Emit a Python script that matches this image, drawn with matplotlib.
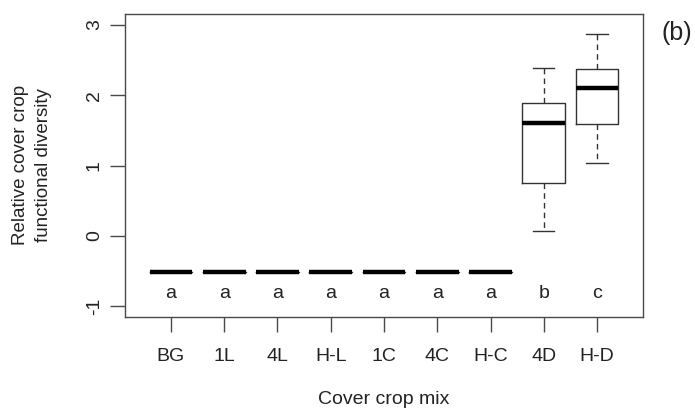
"""Boxplot de diversidad funcional relativa por mezcla de cultivo de cobertura."""

import matplotlib

matplotlib.use("Agg")
import matplotlib.pyplot as plt

plt.rcParams["font.family"] = ["Liberation Sans", "DejaVu Sans"]

# Datos
mixes = ["BG", "1L", "4L", "H-L", "1C", "4C", "H-C", "4D", "H-D"]
whisker_low = [-0.52, -0.52, -0.52, -0.52, -0.52, -0.52, -0.52, 0.07, 1.04]
box_low = [-0.52, -0.52, -0.52, -0.52, -0.52, -0.52, -0.52, 0.75, 1.59]
medians = [-0.52, -0.52, -0.52, -0.52, -0.52, -0.52, -0.52, 1.61, 2.11]
box_high = [-0.52, -0.52, -0.52, -0.52, -0.52, -0.52, -0.52, 1.89, 2.37]
whisker_high = [-0.52, -0.52, -0.52, -0.52, -0.52, -0.52, -0.52, 2.39, 2.87]
letters = ["a", "a", "a", "a", "a", "a", "a", "b", "c"]
letter_y = -0.82

AX_COLOR = "#4a4a4a"
TXT_COLOR = "#222222"

stats = []
for i, name in enumerate(mixes):
    stats.append({
        "label": name,
        "whislo": whisker_low[i],
        "q1": box_low[i],
        "med": medians[i],
        "q3": box_high[i],
        "whishi": whisker_high[i],
        "fliers": [],
    })

fig = plt.figure(figsize=(6.95, 4.17), dpi=100)
ax = fig.add_axes([125 / 695, 1 - 317 / 417, 518 / 695, 303 / 417])

positions = list(range(1, len(mixes) + 1))
ax.bxp(
    stats, positions=positions, widths=0.8, showfliers=False,
    boxprops=dict(color="#333333", linewidth=1.0),
    whiskerprops=dict(color="#333333", linewidth=1.0, linestyle=(0, (4, 3))),
    capprops=dict(color="#333333", linewidth=1.0),
    medianprops=dict(color="black", linewidth=3.2, solid_capstyle="butt"),
    capwidths=0.4,
)

for x, txt in zip(positions, letters):
    ax.text(x, letter_y, txt, ha="center", va="center", fontsize=14, color=TXT_COLOR)

ax.set_xlim(0.137, 9.863)
ax.set_ylim(-1.156, 3.156)
ax.set_yticks([-1, 0, 1, 2, 3])
ax.set_yticklabels(["-1", "0", "1", "2", "3"], rotation=90, va="center")
ax.set_xticks(positions)
ax.set_xticklabels(mixes)

for spine in ax.spines.values():
    spine.set_color(AX_COLOR)
    spine.set_linewidth(1.0)
ax.tick_params(axis="both", colors=AX_COLOR, labelcolor=TXT_COLOR, labelsize=14,
               length=11, width=1.0)
ax.tick_params(axis="x", pad=11)
ax.tick_params(axis="y", pad=5)

fig.text(384 / 695, 1 - 400 / 417, "Cover crop mix", ha="center", va="center",
         fontsize=14, color=TXT_COLOR)
fig.text(32 / 695, 1 - 165 / 417, "Relative cover crop\nfunctional diversity",
         ha="center", va="center", rotation=90, fontsize=13.5, color=TXT_COLOR,
         linespacing=1.45, multialignment="center")

fig.text(677 / 695, 1 - 33 / 417, "(b)", ha="center", va="center",
         fontsize=18, color=TXT_COLOR)

fig.savefig("out.png", dpi=100)
plt.close(fig)
